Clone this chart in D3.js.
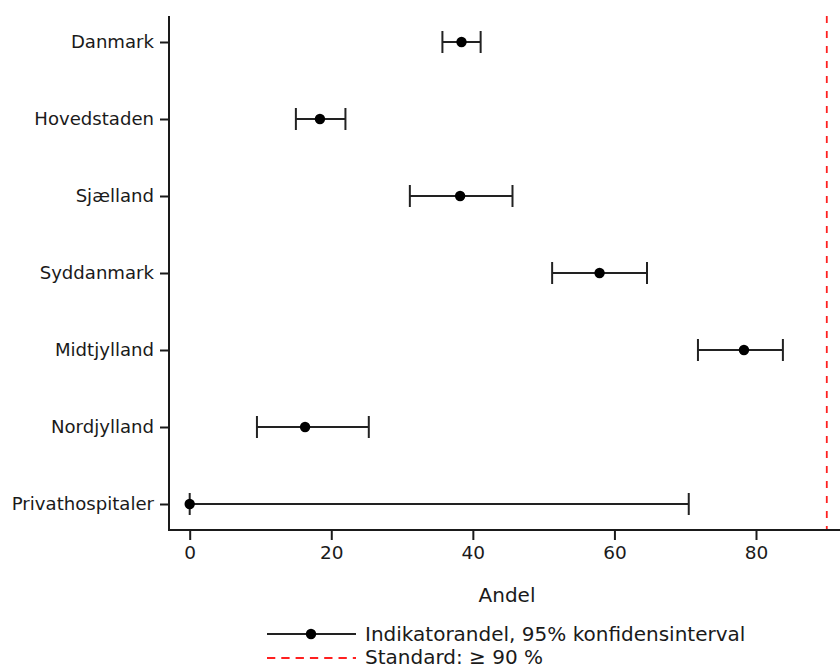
<!DOCTYPE html>
<html>
<head>
<meta charset="utf-8">
<script src="https://cdn.jsdelivr.net/npm/d3@7"></script>
<style>
  body { margin: 0; background: #fff; }
  text { font-family: "DejaVu Sans", sans-serif; fill: #1a1a1a; }
</style>
</head>
<body>
<div id="chart"></div>
<script>
// Regions, top to bottom
var regions = ["Danmark", "Hovedstaden", "Sjælland", "Syddanmark", "Midtjylland", "Nordjylland", "Privathospitaler"];
// Indikatorandel (%) and 95% confidence limits
var estimate = [38.4, 18.4, 38.2, 57.9, 78.3, 16.3, 0];
var lower    = [35.7, 15.0, 31.1, 51.2, 71.8, 9.5, 0];
var upper    = [41.1, 22.0, 45.6, 64.6, 83.8, 25.3, 70.5];
var xTicks = [0, 20, 40, 60, 80];
var standard = 90;
var legendLabels = ["Indikatorandel, 95% konfidensinterval", "Standard: \u2265 90 %"];

var width = 840, height = 668;

var svg = d3.select("#chart")
  .append("svg")
  .attr("width", width)
  .attr("height", height);

// x scale: 0 sits at 189.7px, 80 at 756px
var x = d3.scaleLinear()
  .domain([0, 80])
  .range([189.7, 756]);

var y = d3.scalePoint()
  .domain(regions)
  .range([42, 504]);

var axisLeft = 169, axisTop = 16, axisBottom = 530;

// Red standard line
svg.append("line")
  .attr("x1", x(standard)).attr("x2", x(standard))
  .attr("y1", axisTop).attr("y2", axisBottom)
  .attr("stroke", "#ff2020")
  .attr("stroke-width", 1.8)
  .attr("stroke-dasharray", "7,8");

// x axis
var xAxis = svg.append("g")
  .attr("transform", "translate(0," + axisBottom + ")")
  .call(d3.axisBottom(x).tickValues(xTicks).tickSize(10).tickPadding(6).tickSizeOuter(0));
xAxis.select(".domain").remove();
xAxis.append("line")
  .attr("x1", axisLeft).attr("x2", width)
  .attr("stroke", "#1a1a1a").attr("stroke-width", 2);
xAxis.selectAll(".tick line").attr("stroke", "#1a1a1a").attr("stroke-width", 2);
xAxis.selectAll(".tick text")
  .attr("font-size", "18.5px")
  .attr("font-family", "DejaVu Sans, sans-serif")
  .attr("fill", "#1a1a1a");

// y axis
var yAxis = svg.append("g")
  .attr("transform", "translate(" + axisLeft + ",0)")
  .call(d3.axisLeft(y).tickSize(9).tickPadding(6).tickSizeOuter(0));
yAxis.select(".domain").remove();
yAxis.append("line")
  .attr("y1", axisTop).attr("y2", axisBottom + 1)
  .attr("stroke", "#1a1a1a").attr("stroke-width", 2);
yAxis.selectAll(".tick line").attr("stroke", "#1a1a1a").attr("stroke-width", 2);
yAxis.selectAll(".tick text")
  .attr("font-size", "18.1px")
  .attr("font-family", "DejaVu Sans, sans-serif")
  .attr("fill", "#1a1a1a");

// axis title
svg.append("text")
  .attr("x", 507)
  .attr("y", 602)
  .attr("text-anchor", "middle")
  .attr("font-size", "20px")
  .text("Andel");

// confidence intervals
var rows = regions.map(function(r, i) {
  return { name: r, est: estimate[i], lo: lower[i], hi: upper[i] };
});

var g = svg.append("g");
var cap = 11;

g.selectAll(".ci")
  .data(rows)
  .enter()
  .append("line")
  .attr("x1", function(d) { return x(d.lo); })
  .attr("x2", function(d) { return x(d.hi); })
  .attr("y1", function(d) { return y(d.name); })
  .attr("y2", function(d) { return y(d.name); })
  .attr("stroke", "#222")
  .attr("stroke-width", 2);

g.selectAll(".capLo")
  .data(rows)
  .enter()
  .append("line")
  .attr("x1", function(d) { return x(d.lo); })
  .attr("x2", function(d) { return x(d.lo); })
  .attr("y1", function(d) { return y(d.name) - cap; })
  .attr("y2", function(d) { return y(d.name) + cap; })
  .attr("stroke", "#222")
  .attr("stroke-width", 2);

g.selectAll(".capHi")
  .data(rows)
  .enter()
  .append("line")
  .attr("x1", function(d) { return x(d.hi); })
  .attr("x2", function(d) { return x(d.hi); })
  .attr("y1", function(d) { return y(d.name) - cap; })
  .attr("y2", function(d) { return y(d.name) + cap; })
  .attr("stroke", "#222")
  .attr("stroke-width", 2);

g.selectAll("circle")
  .data(rows)
  .enter()
  .append("circle")
  .attr("cx", function(d) { return x(d.est); })
  .attr("cy", function(d) { return y(d.name); })
  .attr("r", 5.2)
  .attr("fill", "#000");

// legend
var legend = svg.append("g");
legend.append("line")
  .attr("x1", 267).attr("x2", 356)
  .attr("y1", 634).attr("y2", 634)
  .attr("stroke", "#222").attr("stroke-width", 2);
legend.append("circle")
  .attr("cx", 311).attr("cy", 634).attr("r", 5.2).attr("fill", "#000");
legend.append("line")
  .attr("x1", 267).attr("x2", 356)
  .attr("y1", 658).attr("y2", 658)
  .attr("stroke", "#ff2020").attr("stroke-width", 1.8)
  .attr("stroke-dasharray", "8.3,6");
legend.selectAll("text")
  .data(legendLabels)
  .enter()
  .append("text")
  .attr("x", 365)
  .attr("y", function(d, i) { return 641 + i * 23; })
  .attr("font-size", "20px")
  .text(function(d) { return d; });
</script>
</body>
</html>
